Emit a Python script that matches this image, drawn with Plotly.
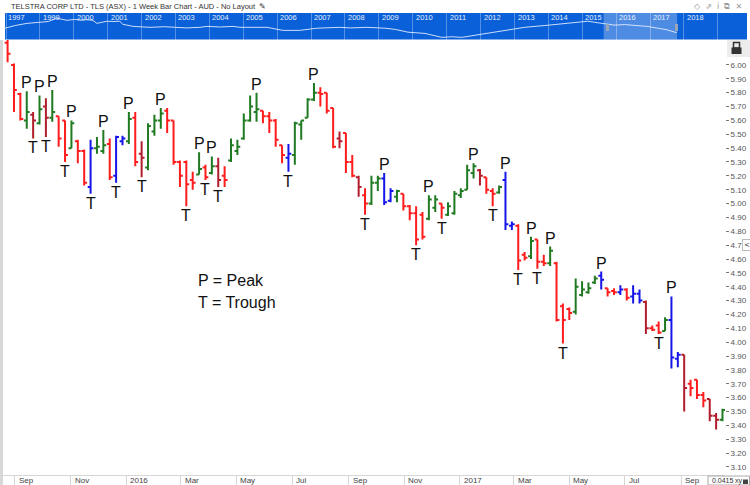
import pandas as pd
import plotly.graph_objects as go

W, H = 750, 485

# ---------------- data (weekly bars, TLS) ----------------
bar_dates = pd.date_range("2015-08-24", periods=113, freq="7D")

opens = [6.16, 6.00, 5.79, 5.60, 5.64, 5.58, 5.70, 5.62, 5.63, 5.60,
         5.40, 5.45, 5.38, 5.12, 5.40, 5.38, 5.43, 5.20, 5.45, 5.45,
         5.62, 5.36, 5.26, 5.52, 5.60, 5.67, 5.60, 5.30, 5.30, 5.17,
         5.21, 5.26, 5.22, 5.27, 5.20, 5.31, 5.38, 5.47, 5.60, 5.66,
         5.67, 5.63, 5.60, 5.42, 5.33, 5.35, 5.57, 5.62, 5.75, 5.80,
         5.80, 5.69, 5.47, 5.51, 5.30, 5.19, 5.06, 5.00, 5.15, 5.18,
         5.02, 5.05, 5.07, 4.98, 4.93, 4.92, 4.89, 4.97, 5.00, 4.92,
         4.93, 5.06, 5.10, 5.22, 5.24, 5.19, 5.09, 5.08, 5.17, 4.84,
         4.84, 4.63, 4.62, 4.74, 4.58, 4.57, 4.57, 4.26, 4.24, 4.22,
         4.34, 4.36, 4.43, 4.48, 4.39, 4.37, 4.36, 4.38, 4.33, 4.35,
         4.29, 4.10, 4.12, 4.08, 4.16, 3.88, 3.91, 3.70, 3.73, 3.62,
         3.59, 3.47, 3.44]
highs = [6.25, 6.01, 5.80, 5.81, 5.66, 5.78, 5.76, 5.82, 5.63, 5.60,
         5.60, 5.46, 5.39, 5.46, 5.48, 5.53, 5.47, 5.49, 5.49, 5.66,
         5.66, 5.45, 5.58, 5.64, 5.69, 5.69, 5.60, 5.31, 5.31, 5.23,
         5.37, 5.28, 5.34, 5.33, 5.27, 5.47, 5.46, 5.65, 5.78, 5.80,
         5.67, 5.66, 5.61, 5.42, 5.43, 5.59, 5.60, 5.76, 5.87, 5.84,
         5.80, 5.69, 5.52, 5.51, 5.35, 5.20, 5.11, 5.20, 5.20, 5.22,
         5.11, 5.10, 5.07, 4.99, 4.98, 4.94, 5.06, 5.06, 5.00, 5.01,
         5.09, 5.11, 5.28, 5.29, 5.25, 5.19, 5.11, 5.13, 5.23, 4.87,
         4.85, 4.65, 4.76, 4.74, 4.63, 4.69, 4.58, 4.28, 4.25, 4.46,
         4.44, 4.43, 4.48, 4.51, 4.39, 4.39, 4.41, 4.39, 4.41, 4.38,
         4.30, 4.12, 4.15, 4.18, 4.33, 3.93, 3.91, 3.73, 3.73, 3.64,
         3.59, 3.49, 3.52]
lows = [6.02, 5.66, 5.60, 5.54, 5.47, 5.57, 5.48, 5.59, 5.41, 5.30,
        5.40, 5.29, 5.13, 5.07, 5.36, 5.36, 5.17, 5.15, 5.42, 5.43,
        5.27, 5.19, 5.24, 5.49, 5.54, 5.51, 5.28, 5.12, 4.98, 5.10,
        5.21, 5.17, 5.21, 5.12, 5.12, 5.30, 5.35, 5.46, 5.59, 5.59,
        5.58, 5.51, 5.41, 5.29, 5.23, 5.28, 5.46, 5.62, 5.74, 5.70,
        5.65, 5.40, 5.40, 5.22, 5.19, 5.05, 4.92, 4.99, 5.09, 4.99,
        5.01, 5.01, 4.95, 4.88, 4.70, 4.74, 4.88, 4.94, 4.89, 4.91,
        4.92, 5.04, 5.10, 5.18, 5.13, 5.07, 4.98, 5.07, 4.81, 4.81,
        4.52, 4.59, 4.60, 4.53, 4.55, 4.55, 4.15, 3.99, 4.16, 4.20,
        4.33, 4.35, 4.42, 4.38, 4.33, 4.34, 4.34, 4.30, 4.28, 4.28,
        4.06, 4.08, 4.06, 4.08, 3.81, 3.82, 3.50, 3.61, 3.59, 3.53,
        3.43, 3.37, 3.43]
closes = [6.08, 5.82, 5.61, 5.66, 5.60, 5.68, 5.62, 5.66, 5.47, 5.35,
          5.58, 5.38, 5.15, 5.40, 5.41, 5.42, 5.19, 5.48, 5.47, 5.61,
          5.30, 5.33, 5.56, 5.60, 5.65, 5.60, 5.30, 5.20, 5.14, 5.15,
          5.25, 5.19, 5.27, 5.17, 5.17, 5.42, 5.41, 5.60, 5.70, 5.68,
          5.63, 5.60, 5.46, 5.35, 5.36, 5.58, 5.60, 5.75, 5.80, 5.79,
          5.67, 5.41, 5.45, 5.30, 5.20, 5.12, 5.00, 5.15, 5.18, 5.01,
          5.09, 5.09, 4.98, 4.93, 4.74, 4.76, 5.03, 5.03, 4.97, 4.98,
          5.07, 5.09, 5.24, 5.27, 5.20, 5.10, 5.07, 5.12, 4.85, 4.85,
          4.59, 4.61, 4.73, 4.58, 4.57, 4.66, 4.16, 4.16, 4.21, 4.40,
          4.38, 4.39, 4.46, 4.45, 4.36, 4.36, 4.38, 4.32, 4.35, 4.30,
          4.10, 4.09, 4.07, 4.16, 3.89, 3.91, 3.67, 3.67, 3.62, 3.58,
          3.47, 3.44, 3.51]
# r = down (red), d = dark red, g = up (green), b = blue
bar_colors = ("rrrgdgdgrr" "grrbggrbbg" "rdgggrrrrr" "grgdrggggg"
              "rrrrbggggr" "rrdrrdrggb" "bgrrrrggrg" "ggggdrrgbb"
              "rrgrrgrrrg" "gggbrrbrbb" "drrgbbdrrr" "ddg")

peak_bars = [3, 5, 7, 10, 15, 19, 24, 30, 32, 39, 48, 59, 66, 73, 78, 82, 85, 93, 104]
trough_bars = [4, 6, 9, 13, 17, 21, 28, 31, 33, 44, 56, 64, 68, 76, 80, 83, 87, 102]

month_ticks = ["2015-09-01", "2015-11-01", "2016-01-01", "2016-03-01", "2016-05-01",
               "2016-07-01", "2016-09-01", "2016-11-01", "2017-01-01", "2017-03-01",
               "2017-05-01", "2017-07-01", "2017-09-01"]
month_labels = ["Sep", "Nov", "2016", "Mar", "May", "Jul", "Sep", "Nov", "2017",
                "Mar", "May", "Jul", "Sep"]
y_ticks = [round(3.10 + 0.10 * k, 2) for k in range(30)]
# the 4.70 label is half hidden behind the small "<" tab in the reference
y_tick_text = ["4.7" if abs(v - 4.70) < 1e-9 else f"{v:.2f}" for v in y_ticks]

# navigator (long-term history strip)
nav_dates = ["1997-12-20", "1998-04-10", "1998-08-15", "1999-01-01", "1999-04-01",
             "1999-07-01", "1999-10-20", "2000-01-10", "2000-03-15", "2000-05-20",
             "2000-07-26", "2000-09-05", "2000-12-25", "2001-03-01", "2001-05-10",
             "2001-06-13", "2001-10-01", "2002-04-01", "2002-09-01", "2003-01-01",
             "2003-05-01", "2003-09-20", "2003-12-05", "2004-05-01", "2004-09-12",
             "2004-11-25", "2005-04-01", "2005-09-12", "2006-03-03", "2006-09-01",
             "2007-03-03", "2007-11-06", "2008-03-01", "2008-08-25", "2009-03-08",
             "2009-07-01", "2009-11-10", "2010-05-12", "2010-11-10", "2011-03-01",
             "2011-06-13", "2011-10-30", "2012-03-20", "2012-10-20", "2013-04-20",
             "2014-01-01", "2014-07-30", "2015-03-03", "2015-07-30", "2015-12-20",
             "2016-04-01", "2016-07-20", "2016-12-01", "2017-03-25", "2017-07-01",
             "2017-09-25", "2017-10-16"]
nav_values = [5.7, 6.6, 7.3, 7.7, 7.9, 9.0, 8.3, 8.6, 8.3, 8.5,
              8.3, 7.3, 8.0, 7.9, 8.0, 7.0, 6.3, 6.0, 6.2, 6.0,
              5.8, 6.0, 6.3, 6.1, 6.3, 6.0, 6.1, 6.0, 5.0, 5.0,
              5.7, 6.0, 5.8, 6.0, 5.7, 5.3, 4.4, 4.0, 2.7, 2.9,
              2.7, 3.4, 4.0, 5.0, 6.0, 6.7, 7.3, 8.0, 7.3, 6.7,
              6.9, 6.7, 6.3, 5.7, 5.2, 4.4, 4.3]
nav_year_dates = ["1997-12-21"] + [f"{y}-01-01" for y in range(1999, 2019)]
nav_year_labels = ["1997"] + [str(y) for y in range(1999, 2019)]

# ---------------- figure ----------------
def fx(px):
    return px / W

def fy(py):
    return 1 - py / H

COLORS = {"r": "#ff1c1c", "d": "#b01e2c", "g": "#1f7a22", "b": "#1616e8"}

fig = go.Figure()
for code, col in COLORS.items():
    idx = [i for i, c in enumerate(bar_colors) if c == code]
    fig.add_trace(go.Ohlc(
        x=[bar_dates[i] for i in idx],
        open=[opens[i] for i in idx], high=[highs[i] for i in idx],
        low=[lows[i] for i in idx], close=[closes[i] for i in idx],
        increasing=dict(line=dict(color=col, width=2)),
        decreasing=dict(line=dict(color=col, width=2)),
        tickwidth=0.45, hoverinfo="skip", showlegend=False,
        xaxis="x", yaxis="y"))

fig.add_trace(go.Scatter(x=nav_dates, y=nav_values, mode="lines",
                         line=dict(color="rgba(225,235,255,0.9)", width=1),
                         hoverinfo="skip", showlegend=False,
                         xaxis="x2", yaxis="y2"))

main_range = ["2015-08-18 23:00", "2017-10-18 18:00"]
nav_range = ["1997-12-21", "2019-11-11"]

annotations = []
for i in peak_bars:
    annotations.append(dict(x=bar_dates[i], y=highs[i], xref="x", yref="y", text="P",
                            showarrow=False, yanchor="bottom", yshift=-2,
                            font=dict(size=16, color="#111", family="Liberation Sans")))
for i in trough_bars:
    annotations.append(dict(x=bar_dates[i], y=lows[i], xref="x", yref="y", text="T",
                            showarrow=False, yanchor="top", yshift=1,
                            font=dict(size=16, color="#111", family="Liberation Sans")))
for d, t in zip(month_ticks, month_labels):
    annotations.append(dict(x=d, y=fy(480), xref="x", yref="paper", text=t, showarrow=False,
                            xanchor="left", yanchor="middle", xshift=2,
                            font=dict(size=8, color="#444", family="Liberation Sans")))
for d, t in zip(nav_year_dates, nav_year_labels):
    annotations.append(dict(x=d, y=fy(17.5), xref="x2", yref="paper", text=t, showarrow=False,
                            xanchor="left", yanchor="middle", xshift=1,
                            font=dict(size=7.5, color="#e6eefc", family="Liberation Sans")))

annotations += [
    dict(x=fx(196), y=fy(280), xref="paper", yref="paper", text="P = Peak", showarrow=False,
         xanchor="left", yanchor="middle", font=dict(size=16, color="#111", family="Liberation Sans")),
    dict(x=fx(196), y=fy(302), xref="paper", yref="paper", text="T = Trough", showarrow=False,
         xanchor="left", yanchor="middle", font=dict(size=16, color="#111", family="Liberation Sans")),
    dict(x=fx(9), y=fy(6.5), xref="paper", yref="paper",
         text="TELSTRA CORP LTD - TLS (ASX) - 1 Week Bar Chart - AUD - No Layout  ✎",
         showarrow=False, xanchor="left", yanchor="middle",
         font=dict(size=7.5, color="#333", family="Liberation Sans")),
    dict(x=fx(744), y=fy(6.5), xref="paper", yref="paper", text="◇  ⇗  i  ⧉  ✕",
         showarrow=False, xanchor="right", yanchor="middle",
         font=dict(size=8, color="#9a9a9a", family="DejaVu Sans")),
    dict(x=fx(746.5), y=fy(244.5), xref="paper", yref="paper", text="<", showarrow=False,
         xanchor="center", yanchor="middle", bgcolor="white", bordercolor="#bbbbbb",
         borderwidth=1, borderpad=1, font=dict(size=7, color="#333", family="DejaVu Sans")),
    dict(x=fx(710), y=fy(480.5), xref="paper", yref="paper", text="0.0415", showarrow=False,
         xanchor="left", yanchor="middle", font=dict(size=7, color="#333", family="Liberation Sans")),
    dict(x=fx(733), y=fy(480.5), xref="paper", yref="paper", text="xy", showarrow=False,
         xanchor="left", yanchor="middle", font=dict(size=7, color="#333", family="Liberation Sans")),
]

shapes = [
    # navigator band and highlighted window
    dict(type="rect", xref="x2 domain", yref="y2 domain", x0=0, x1=1, y0=0, y1=1,
         fillcolor="#0a60d8", line=dict(width=0), layer="below"),
    dict(type="rect", xref="x2", yref="y2 domain", x0=main_range[0], x1=main_range[1], y0=0, y1=1,
         fillcolor="rgba(255,255,255,0.28)", line=dict(width=0), layer="below"),
    dict(type="rect", xref="paper", yref="paper", x0=fx(606), x1=fx(609), y0=fy(31), y1=fy(24),
         fillcolor="#9aa6b8", line=dict(width=0)),
    dict(type="rect", xref="paper", yref="paper", x0=fx(675), x1=fx(678), y0=fy(31), y1=fy(24),
         fillcolor="#9aa6b8", line=dict(width=0)),
    # left border of chart panel
    dict(type="line", xref="paper", yref="paper", x0=fx(1.5), x1=fx(1.5), y0=fy(40), y1=0,
         line=dict(color="#d8d8d8", width=3)),
    # lock box top right
    dict(type="rect", xref="paper", yref="paper", x0=fx(727), x1=1, y0=fy(57), y1=fy(40),
         fillcolor="#ececec", line=dict(width=0)),
    dict(type="rect", xref="paper", yref="paper", x0=fx(733.5), x1=fx(739.5), y0=fy(48), y1=fy(42.5),
         fillcolor="rgba(0,0,0,0)", line=dict(color="#333", width=1.5)),
    dict(type="rect", xref="paper", yref="paper", x0=fx(731.5), x1=fx(741.5), y0=fy(54), y1=fy(47.5),
         fillcolor="#333", line=dict(width=0)),
    # bottom right box
    dict(type="rect", xref="paper", yref="paper", x0=fx(708), x1=fx(749.5), y0=fy(485), y1=fy(476),
         fillcolor="white", line=dict(color="#aaaaaa", width=1)),
    dict(type="rect", xref="paper", yref="paper", x0=fx(743), x1=fx(748), y0=fy(484), y1=fy(479.5),
         fillcolor="#444", line=dict(width=0)),
]

fig.update_layout(
    width=W, height=H,
    margin=dict(l=0, r=0, t=0, b=0),
    paper_bgcolor="white", plot_bgcolor="rgba(0,0,0,0)",
    showlegend=False,
    font=dict(family="Liberation Sans", size=8, color="#555"),
    xaxis=dict(domain=[fx(3), fx(725)], anchor="y", type="date", range=main_range,
               rangeslider=dict(visible=False), showgrid=False, zeroline=False,
               tickvals=month_ticks, showticklabels=False, ticks="outside", ticklen=10,
               tickcolor="#d6d6d6", showline=True, linecolor="#d6d6d6", linewidth=1),
    yaxis=dict(domain=[1 - 475 / H, 1 - 40 / H], anchor="x", side="right",
               range=[3.042, 6.18], tickvals=y_ticks, ticktext=y_tick_text,
               ticks="outside", ticklen=3, tickcolor="#777", showgrid=False, zeroline=False,
               showline=False, tickfont=dict(size=8, color="#555", family="Liberation Sans")),
    xaxis2=dict(domain=[fx(5), fx(747)], anchor="y2", type="date", range=nav_range,
                tickvals=[f"{y}-01-01" for y in range(1998, 2020)], showticklabels=False,
                ticks="", showgrid=True, gridcolor="rgba(255,255,255,0.3)", gridwidth=1,
                zeroline=False, showline=False, fixedrange=True),
    yaxis2=dict(domain=[1 - 39.5 / H, 1 - 13 / H], anchor="x2", range=[2.0, 10.7],
                visible=False, fixedrange=True),
    annotations=annotations,
    shapes=shapes,
)

fig.write_html("out.html", include_plotlyjs=True, full_html=True,
               config={"displayModeBar": False})
